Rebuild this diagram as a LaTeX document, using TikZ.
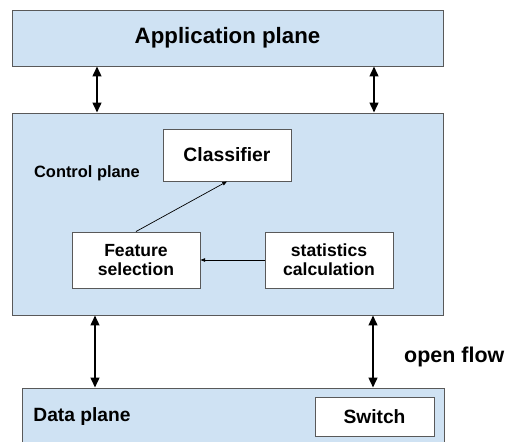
\documentclass[tikz,border=0pt]{standalone}
\usepackage{fontspec}
\setmainfont{Liberation Sans}
\usetikzlibrary{arrows.meta, positioning, calc}
\definecolor{planeblue}{HTML}{CFE2F3}
\definecolor{edgegray}{HTML}{595959}

\tikzset{
  plane/.style={draw=edgegray, fill=planeblue, line width=0.8pt, inner sep=0pt},
  block/.style={draw=edgegray, fill=white, line width=0.8pt, inner sep=0pt, align=center, font=\fontsize{15}{16}\selectfont\bfseries},
  link/.style={line width=1.6pt, {Triangle[length=8.5pt,width=7.5pt]}-{Triangle[length=8.5pt,width=7.5pt]}},
  flow/.style={line width=0.6pt, -{Triangle[length=4pt,width=3pt]}},
}

\begin{document}
\begin{tikzpicture}[x=0.03cm, y=-0.03cm]
  \useasboundingbox (0,0) rectangle (509,441);
  \clip (0,0) rectangle (509,441);

  % Planes
  \node[plane, minimum width=12.93cm, minimum height=1.68cm, font=\fontsize{19}{19}\selectfont\bfseries] (app) at (227.5,38) {Application plane};
  \node[plane, minimum width=12.93cm, minimum height=6.06cm] (ctrl) at (227.5,214) {};
  \node[plane, minimum width=12.66cm, minimum height=2.46cm] (data) at (233,429) {};

  \node[font=\fontsize{14}{14}\selectfont\bfseries] (ctrllbl) at (87,173) {Control plane};
  \node[font=\fontsize{16.4}{16.4}\selectfont\bfseries] (datalbl) at (82,417) {Data plane};

  % Blocks inside the planes
  \node[block, minimum width=3.84cm, minimum height=1.56cm, font=\fontsize{16.5}{17}\selectfont\bfseries] (clf) at (227,155) {Classifier};
  \node[block, minimum width=3.84cm, minimum height=1.68cm] (feat) at (136,260) {Feature\\selection};
  \node[block, minimum width=3.84cm, minimum height=1.68cm] (stats) at (329,260) {statistics\\calculation};
  \node[block, minimum width=3.57cm, minimum height=1.17cm, font=\fontsize{16.4}{17}\selectfont\bfseries] (sw) at (374.5,416.5) {Switch};

  \draw[flow] (stats.west) -- (feat.east);
  \draw[flow] (feat.north) -- (clf.south);

  % Links between planes
  \draw[link] ([xshift=-3.915cm]app.south) -- ([xshift=-3.915cm]ctrl.north);
  \draw[link] ([xshift=4.395cm]app.south) -- ([xshift=4.395cm]ctrl.north);
  \draw[link] ([xshift=-3.975cm]ctrl.south) -- ([xshift=-4.14cm]data.north);
  \draw[link] ([xshift=4.365cm]ctrl.south) -- ([xshift=4.2cm]data.north);

  \node[font=\fontsize{18.3}{18.3}\selectfont\bfseries, anchor=base west, inner sep=0pt] (oflbl) at (404,362) {open flow};
\end{tikzpicture}
\end{document}
